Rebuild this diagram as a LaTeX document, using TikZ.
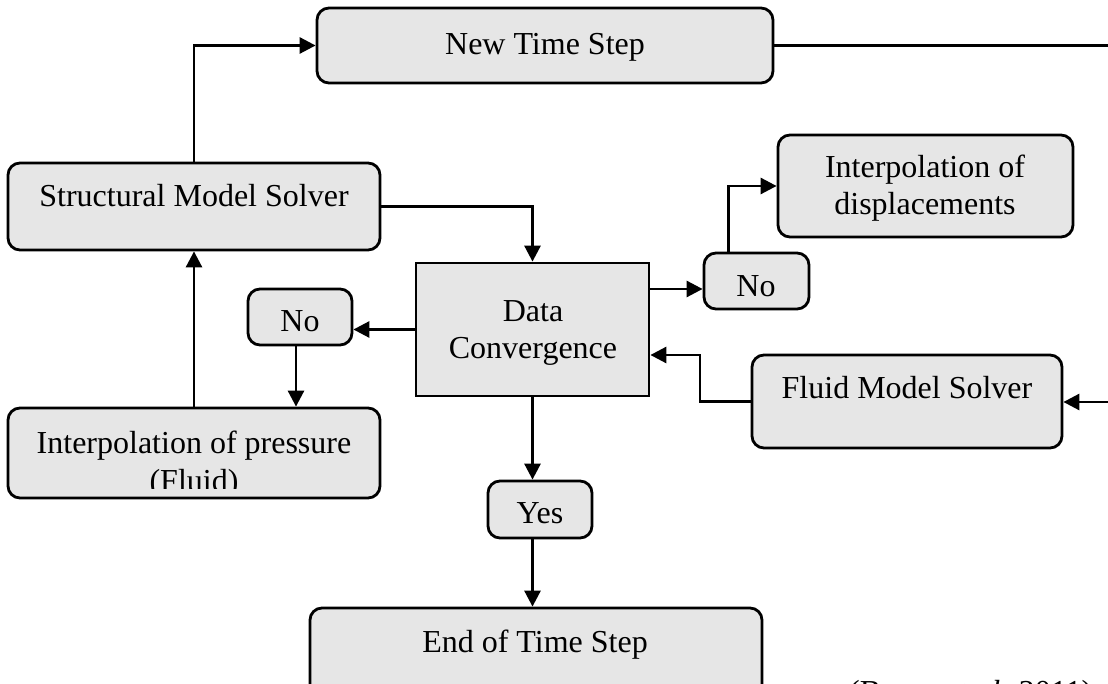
\documentclass[tikz,border=0pt]{standalone}
\usepackage{fontspec}
\setmainfont{Liberation Serif}
\usetikzlibrary{arrows.meta}
\definecolor{boxgray}{RGB}{230,230,230}
\tikzset{
  box/.style={draw=black, fill=boxgray, line width=2.8pt, rounded corners=12pt, inner sep=0pt},
  sqbox/.style={draw=black, fill=boxgray, line width=2.8pt, inner sep=0pt},
  lbl/.style={anchor=base, inner sep=0pt, font=\fontsize{32}{38}\selectfont},
  arr/.style={line width=2.8pt, -{Triangle[length=16pt,width=16pt]}},
  conn/.style={line width=2.8pt}
}
\begin{document}
\begin{tikzpicture}[x=1pt,y=-1pt]
\useasboundingbox (0,0) rectangle (1108,684);
\clip (0,0) rectangle (1108,684);
% boxes
\node[box, minimum width=456pt, minimum height=75pt] (nts) at (545,45.5) {};
\node[box, minimum width=372pt, minimum height=87pt] (sms) at (194,206.5) {};
\node[box, minimum width=295pt, minimum height=102pt] (idisp) at (925.5,186) {};
\node[box, minimum width=105pt, minimum height=56pt] (noR) at (756.5,281) {};
\node[sqbox, minimum width=233pt, minimum height=133pt] (dc) at (532.5,329.5) {};
\node[box, minimum width=104pt, minimum height=56pt] (noL) at (300,317) {};
\node[box, minimum width=372pt, minimum height=90pt] (ip) at (194,453) {};
\node[box, minimum width=310pt, minimum height=93pt] (fms) at (907,401.5) {};
\node[box, minimum width=104pt, minimum height=57pt] (yes) at (540,509.5) {};
\node[box, minimum width=452pt, minimum height=102pt] (ets) at (536,659) {};
% texts
\node[lbl] (ntsT) at (545,55) {New Time Step};
\node[lbl] (smsT) at (194,207) {Structural Model Solver};
\node[lbl] (idispT1) at (925,178) {Interpolation of};
\node[lbl] (idispT2) at (925,215) {displacements};
\node[lbl] (noRT) at (756,297) {No};
\node[lbl] (dcT1) at (533,322) {Data};
\node[lbl] (dcT2) at (533,359) {Convergence};
\node[lbl] (noLT) at (300,332) {No};
\node[lbl] (ipT1) at (194,453) {Interpolation of pressure};
\begin{scope}
\clip (8,400) rectangle (380,488);
\node[lbl] (ipT2) at (194,491) {(Fluid)};
\end{scope}
\node[lbl] (fmsT) at (907,399) {Fluid Model Solver};
\node[lbl] (yesT) at (540,523) {Yes};
\node[lbl] (etsT) at (535,652) {End of Time Step};
\node[lbl, anchor=base west] (cite) at (849,702) {(Benra \textit{et al.} 2011)};
% connectors
\draw[arr] (sms.north) |- (nts.west);
\coordinate (r1) at (1108,45.5);
\draw[conn] (nts.east) -- (r1);
\draw[arr] (sms.east) -| (dc.north);
\coordinate (a1) at ([yshift=-8pt]noR.west);
\draw[arr] (a1 -| dc.east) -- (a1);
\coordinate (a2) at ([xshift=-28pt]noR.north);
\draw[arr] (a2) |- (idisp.west);
\draw[arr] (dc.west) -- (dc.west -| noL.east);
\coordinate (a3) at ([xshift=-4pt]noL.south);
\draw[arr] (a3) -- (a3 |- ip.north);
\draw[arr] (ip.north) -- (sms.south);
\coordinate (c1) at (700,355);
\draw[arr] (fms.west) -| (c1) -- (c1 -| dc.east);
\coordinate (r2) at (1108,402);
\draw[arr] (r2) -- (r2 -| fms.east);
\draw[arr] (dc.south) -- (dc.south |- yes.north);
\coordinate (a4) at (dc.south |- yes.south);
\draw[arr] (a4) -- (a4 |- ets.north);
\end{tikzpicture}
\end{document}
